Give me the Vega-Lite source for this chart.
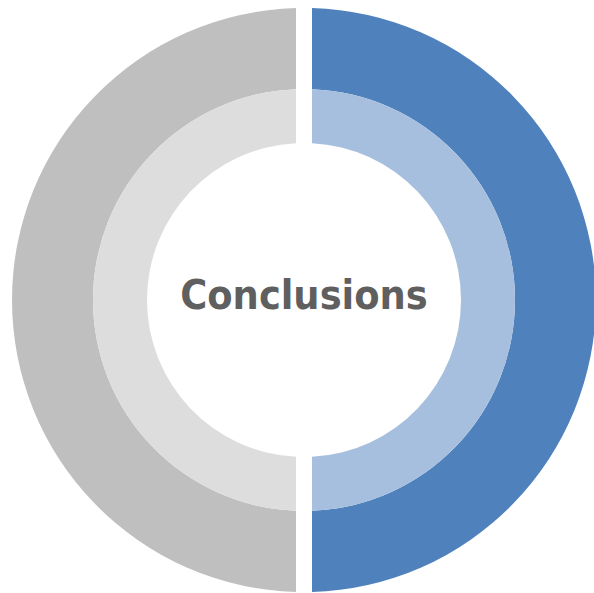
{
  "$schema": "https://vega.github.io/schema/vega-lite/v6.json",
  "width": 608,
  "height": 600,
  "autosize": "none",
  "padding": 0,
  "background": "white",
  "config": {"view": {"stroke": null}},
  "layer": [
    {
      "data": {"values": [
        {"ring": "outer", "part": "Right", "value": 50, "order": 1},
        {"ring": "outer", "part": "Left", "value": 50, "order": 2}
      ]},
      "mark": {"type": "arc", "outerRadius": 292, "innerRadius": 211, "padAngle": 0.0445},
      "encoding": {
        "theta": {"field": "value", "type": "quantitative", "stack": true},
        "order": {"field": "order", "type": "quantitative"},
        "color": {"field": "part", "type": "nominal", "scale": {"domain": ["Right", "Left"], "range": ["#4F81BD", "#BFBFBF"]}, "legend": null}
      }
    },
    {
      "data": {"values": [
        {"ring": "inner", "part": "Right", "value": 50, "order": 1},
        {"ring": "inner", "part": "Left", "value": 50, "order": 2}
      ]},
      "mark": {"type": "arc", "outerRadius": 211, "innerRadius": 157, "padAngle": 0.061},
      "encoding": {
        "theta": {"field": "value", "type": "quantitative", "stack": true},
        "order": {"field": "order", "type": "quantitative"},
        "fill": {"field": "part", "type": "nominal", "scale": {"domain": ["Right", "Left"], "range": ["#A7BFDE", "#DDDDDD"]}, "legend": null}
      }
    },
    {
      "data": {"values": [{"label": "Conclusions"}]},
      "mark": {"type": "text", "font": "DejaVu Sans Condensed, Roboto, sans-serif", "fontWeight": "bold", "fontSize": 41, "color": "#5F5F5F", "align": "center", "baseline": "middle", "dy": -3},
      "encoding": {
        "text": {"field": "label", "type": "nominal"}
      }
    }
  ]
}
